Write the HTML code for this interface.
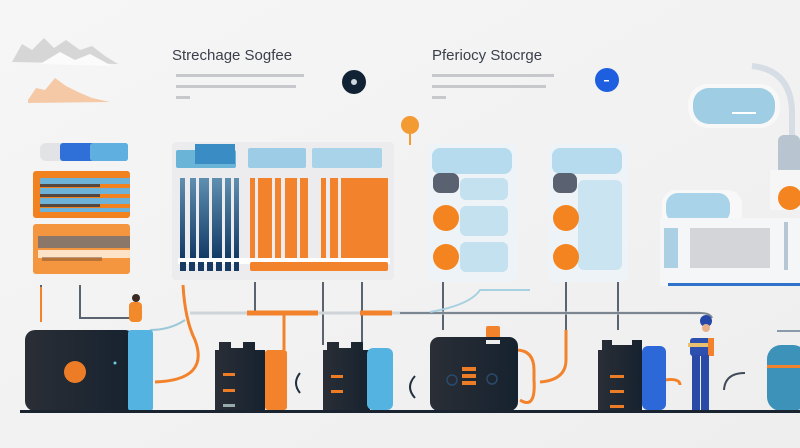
<!DOCTYPE html>
<html><head><meta charset="utf-8"><style>
html,body{margin:0;padding:0;background:#f3f3f3;}
svg{display:block}
text{font-family:"Liberation Sans",sans-serif}
</style></head><body>
<svg width="800" height="448" viewBox="0 0 800 448" xmlns="http://www.w3.org/2000/svg">
<defs>
<linearGradient id="bg" x1="0" y1="0" x2="1" y2="1"><stop offset="0" stop-color="#f6f6f6"/><stop offset="1" stop-color="#eeeeee"/></linearGradient>
<linearGradient id="dk" x1="0" y1="0" x2="1" y2="0"><stop offset="0" stop-color="#2a2e36"/><stop offset="1" stop-color="#16222f"/></linearGradient>
<linearGradient id="or" x1="0" y1="0" x2="1" y2="0"><stop offset="0" stop-color="#f5a25a"/><stop offset="1" stop-color="#f3802b"/></linearGradient>
<linearGradient id="nv" x1="0" y1="0" x2="0" y2="1"><stop offset="0" stop-color="#5f8fb0"/><stop offset="1" stop-color="#123a66"/></linearGradient>
</defs>
<rect width="800" height="448" fill="url(#bg)"/>
<!-- clouds -->
<path d="M12 62 L22 44 L32 50 L44 38 L54 48 L66 40 L80 50 L92 46 L105 56 L118 64 Z" fill="#d6d6d6"/>
<path d="M40 64 L60 52 L75 60 L90 54 L112 66 Z" fill="#fbfbfb"/>
<path d="M28 100 L36 88 L45 90 L55 78 L66 86 L78 92 L92 98 L110 102 L28 103 Z" fill="#f6c9a6"/>
<!-- titles -->
<text x="172" y="60" font-size="15" fill="#3a3f4a">Strechage Sogfee</text>
<text x="432" y="60" font-size="15" fill="#3a3f4a">Pferiocy Stocrge</text>
<g fill="#c6c8cc"><rect x="176" y="74" width="128" height="3"/><rect x="176" y="85" width="120" height="3"/><rect x="176" y="96" width="14" height="3"/>
<rect x="432" y="74" width="122" height="3"/><rect x="432" y="85" width="114" height="3"/><rect x="432" y="96" width="14" height="3"/></g>
<circle cx="354" cy="82" r="12" fill="#102234"/><circle cx="354" cy="82" r="3" fill="#cfd8e2"/>
<circle cx="607" cy="80" r="12" fill="#1e5fe0"/><rect x="604" y="80" width="5" height="1.5" fill="#fff"/>
<!-- lamp -->
<ellipse cx="410" cy="125" rx="9" ry="9" fill="#f39a33"/><rect x="409" y="133" width="2" height="12" fill="#f39a33"/>
<!-- left panels -->
<rect x="40" y="143" width="88" height="18" rx="6" fill="#e1e3e6"/>
<rect x="60" y="143" width="68" height="18" rx="3" fill="#2f6fd8"/>
<rect x="90" y="143" width="38" height="18" rx="3" fill="#5fb0e0"/>
<rect x="33" y="171" width="97" height="47" rx="3" fill="#f2811f"/>
<g fill="#6fb2d8"><rect x="40" y="178" width="90" height="6"/><rect x="40" y="188" width="90" height="6"/><rect x="40" y="198" width="90" height="6"/><rect x="40" y="208" width="90" height="4"/></g>
<g fill="#24354a" opacity=".75"><rect x="40" y="184" width="60" height="3"/><rect x="40" y="194" width="60" height="3"/><rect x="40" y="204" width="60" height="3"/></g>
<rect x="33" y="224" width="97" height="50" rx="3" fill="#f49640"/>
<rect x="38" y="236" width="92" height="12" fill="#5c6a7a" opacity=".7"/>
<rect x="38" y="250" width="92" height="8" fill="#fce3c8"/>
<rect x="42" y="257" width="60" height="4" fill="#7a5030" opacity=".5"/>
<!-- middle big panel -->
<rect x="172" y="142" width="222" height="138" rx="4" fill="#ececee"/>
<rect x="176" y="150" width="60" height="18" rx="2" fill="#6ab4d8"/>
<rect x="195" y="144" width="40" height="20" fill="#3a8cc4"/>
<rect x="248" y="148" width="58" height="20" rx="2" fill="#9ccce6"/>
<rect x="312" y="148" width="70" height="20" rx="2" fill="#a9d3e8"/>
<g fill="url(#nv)"><rect x="180" y="178" width="5" height="80"/><rect x="190" y="178" width="6" height="80"/><rect x="199" y="178" width="10" height="80"/><rect x="212" y="178" width="10" height="80"/><rect x="225" y="178" width="6" height="80"/><rect x="234" y="178" width="5" height="80"/></g>
<g fill="#f2832c"><rect x="250" y="178" width="5" height="80"/><rect x="258" y="178" width="14" height="80"/><rect x="275" y="178" width="6" height="80"/><rect x="285" y="178" width="12" height="80"/><rect x="300" y="178" width="8" height="80"/><rect x="321" y="178" width="5" height="80"/><rect x="330" y="178" width="8" height="80"/><rect x="341" y="178" width="47" height="80"/></g>
<rect x="178" y="258" width="212" height="6" fill="#fff"/>
<g fill="#173b62"><rect x="180" y="262" width="6" height="9"/><rect x="189" y="262" width="6" height="9"/><rect x="198" y="262" width="6" height="9"/><rect x="207" y="262" width="6" height="9"/><rect x="216" y="262" width="6" height="9"/><rect x="225" y="262" width="6" height="9"/><rect x="234" y="262" width="5" height="9"/></g>
<rect x="250" y="262" width="138" height="9" rx="2" fill="#f2832c"/>
<!-- right panels -->
<g>
<rect x="428" y="144" width="90" height="138" rx="8" fill="#eef3f7"/>
<rect x="432" y="148" width="80" height="26" rx="8" fill="#b6dbee"/>
<rect x="460" y="178" width="48" height="22" rx="6" fill="#c4e1f0"/>
<rect x="460" y="206" width="48" height="30" rx="6" fill="#c4e1f0"/>
<rect x="460" y="242" width="48" height="30" rx="6" fill="#c4e1f0"/>
<rect x="433" y="173" width="26" height="20" rx="7" fill="#5a6170"/>
<circle cx="446" cy="218" r="13" fill="#f4841f"/><circle cx="446" cy="257" r="13" fill="#f4841f"/>
<rect x="548" y="144" width="80" height="138" rx="8" fill="#eef3f7"/>
<rect x="552" y="148" width="70" height="26" rx="8" fill="#b6dbee"/>
<rect x="578" y="180" width="44" height="90" rx="6" fill="#cbe4f1"/>
<rect x="553" y="173" width="24" height="20" rx="7" fill="#5a6170"/>
<circle cx="566" cy="218" r="13" fill="#f4841f"/><circle cx="566" cy="257" r="13" fill="#f4841f"/>
</g>
<!-- right side structure -->
<path d="M752 66 Q790 70 792 110 L792 135" stroke="#d6dde4" stroke-width="6" fill="none"/>
<rect x="688" y="84" width="92" height="44" rx="20" fill="#f8f8f8"/>
<rect x="693" y="88" width="82" height="36" rx="16" fill="#9fcde3"/>
<rect x="732" y="112" width="24" height="2" fill="#fff"/>
<rect x="778" y="135" width="22" height="40" rx="6" fill="#b8c4d0"/>
<rect x="770" y="170" width="30" height="40" fill="#f6f6f6"/>
<circle cx="790" cy="198" r="12" fill="#f4841f"/>
<rect x="662" y="190" width="80" height="40" rx="14" fill="#f8f8f8"/>
<rect x="666" y="193" width="64" height="30" rx="12" fill="#a9d3e8"/>
<rect x="660" y="218" width="140" height="68" fill="#f5f6f7"/>
<g fill="#7ab6d6"><rect x="664" y="228" width="14" height="40" opacity=".6"/></g>
<rect x="690" y="228" width="80" height="40" fill="#d3d5d8"/>
<rect x="784" y="222" width="4" height="48" fill="#b7c6d4"/>
<rect x="668" y="283" width="132" height="3" fill="#2e72c9"/>
<!-- pipes and lines -->
<g stroke="#5a6470" stroke-width="2" fill="none">
<path d="M41 285 V322"/><path d="M80 285 V318 H130"/>
<path d="M255 282 V313"/><path d="M323 282 V345"/><path d="M362 282 V345"/>
<path d="M443 282 V330"/><path d="M566 282 V330"/><path d="M618 282 V330"/>
</g>
<path d="M41 287 V322" stroke="#f2832c" stroke-width="2"/>
<path d="M190 313 H700" stroke="#cfd4d8" stroke-width="3"/>
<path d="M400 313 H700 Q710 313 712 318" stroke="#7c8691" stroke-width="2" fill="none"/>
<path d="M430 312 Q470 305 480 290 H530" stroke="#a7d0e0" stroke-width="2" fill="none"/>
<path d="M247 313 H318" stroke="#f2832c" stroke-width="5"/>
<path d="M360 313 H392" stroke="#f2832c" stroke-width="5"/>
<path d="M284 315 V350" stroke="#f2832c" stroke-width="3"/>
<path d="M183 285 Q185 320 195 340 Q210 380 155 382" stroke="#f2832c" stroke-width="3" fill="none"/>
<path d="M150 330 Q170 330 185 320" stroke="#9cc8d8" stroke-width="2" fill="none"/>
<path d="M516 350 Q534 350 534 370 V380 Q536 410 520 400" stroke="#f2832c" stroke-width="3" fill="none"/>
<path d="M566 330 V360 Q566 380 540 382" stroke="#f2832c" stroke-width="3" fill="none"/>
<path d="M665 380 Q680 378 680 385" stroke="#f2832c" stroke-width="3" fill="none"/>
<!-- person left -->
<circle cx="136" cy="298" r="4" fill="#3b2a24"/>
<rect x="129" y="302" width="13" height="20" rx="4" fill="#f2892b"/>
<!-- big machine left -->
<rect x="25" y="330" width="110" height="81" rx="10" fill="url(#dk)"/>
<rect x="128" y="330" width="25" height="81" rx="3" fill="#55b3e2"/>
<circle cx="75" cy="372" r="11" fill="#ec7c26"/>
<circle cx="115" cy="363" r="1.5" fill="#6ccbe0"/>
<!-- machine 2 -->
<path d="M215 350 h4 v-8 h12 v6 h12 v-6 h12 v8 h10 v60 h-50 z" fill="url(#dk)"/>
<rect x="265" y="350" width="22" height="60" rx="3" fill="#f2832c"/>
<g fill="#ec7c26"><rect x="223" y="373" width="12" height="3"/><rect x="223" y="389" width="12" height="3"/></g>
<rect x="223" y="404" width="12" height="3" fill="#9aa"/>
<!-- machine 3 -->
<path d="M323 350 h4 v-8 h12 v6 h12 v-6 h12 v8 h7 v60 h-47 z" fill="url(#dk)"/>
<rect x="367" y="348" width="26" height="62" rx="6" fill="#55b3e2"/>
<g fill="#ec7c26"><rect x="331" y="375" width="12" height="3"/><rect x="331" y="390" width="12" height="3"/></g>
<path d="M300 373 Q292 383 300 393" stroke="#203040" stroke-width="2" fill="none"/>
<!-- big machine 2 -->
<rect x="486" y="326" width="14" height="12" rx="2" fill="#f2832c"/>
<rect x="430" y="337" width="88" height="74" rx="9" fill="url(#dk)"/>
<rect x="486" y="340" width="14" height="4" fill="#eee"/>
<g fill="#ec7c26"><rect x="462" y="367" width="14" height="4"/><rect x="462" y="374" width="14" height="4"/><rect x="462" y="381" width="14" height="4"/></g>
<circle cx="452" cy="380" r="5" fill="none" stroke="#2b4a6a" stroke-width="1.5"/>
<circle cx="492" cy="379" r="5" fill="none" stroke="#2b4a6a" stroke-width="1.5"/>
<path d="M415 376 Q405 387 415 398" stroke="#203040" stroke-width="2" fill="none"/>
<!-- machine 4 -->
<path d="M598 350 h4 v-10 h10 v5 h20 v-5 h10 v10 v60 h-44 z" fill="url(#dk)"/>
<rect x="642" y="346" width="24" height="64" rx="6" fill="#2d68d8"/>
<g fill="#ec7c26"><rect x="610" y="375" width="14" height="3"/><rect x="610" y="390" width="14" height="3"/><rect x="610" y="405" width="14" height="3"/></g>
<!-- worker -->
<circle cx="706" cy="321" r="6" fill="#2547a8"/>
<circle cx="706" cy="328" r="4" fill="#e8b08a"/>
<rect x="690" y="338" width="22" height="18" rx="3" fill="#2d50b0"/>
<rect x="708" y="338" width="6" height="18" fill="#f2832c"/>
<rect x="688" y="343" width="20" height="4" fill="#e8c070"/>
<rect x="692" y="355" width="8" height="55" fill="#2a4aa8"/>
<rect x="701" y="355" width="8" height="55" fill="#2a4aa8"/>
<!-- tank -->
<path d="M745 373 Q725 373 724 390" stroke="#404a58" stroke-width="2" fill="none"/>
<rect x="777" y="330" width="23" height="2" fill="#8a9aa8"/>
<rect x="767" y="345" width="40" height="66" rx="14" fill="#3c92b8"/>
<rect x="767" y="365" width="33" height="3" fill="#f2832c"/>
<!-- floor -->
<rect x="20" y="410" width="780" height="3" fill="#1a2330"/>
</svg>
</body></html>
